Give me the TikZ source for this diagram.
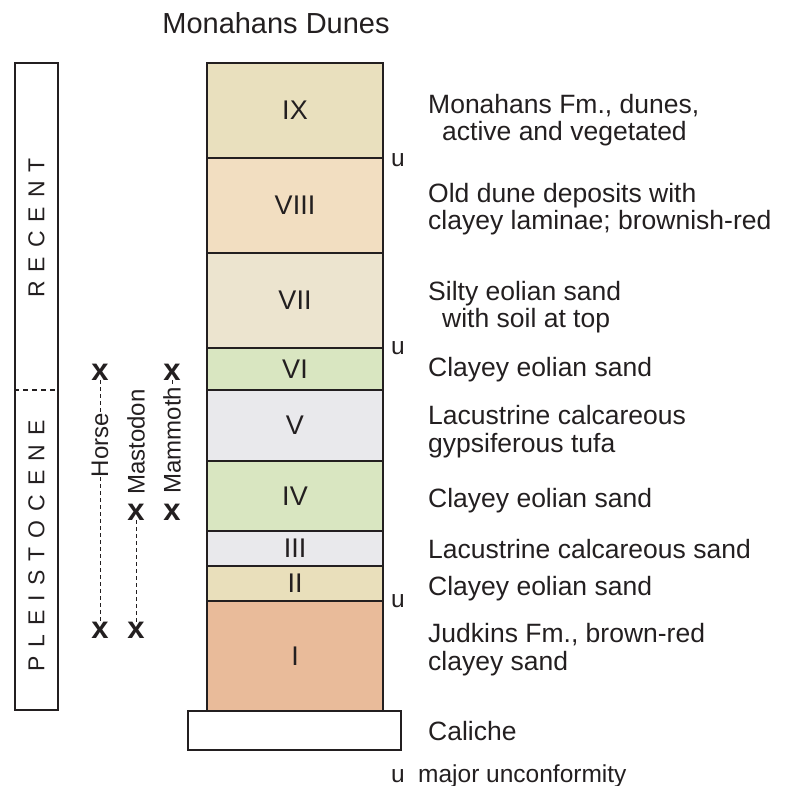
\documentclass[tikz,border=0pt]{standalone}
\usepackage{fontspec}
\setmainfont{Liberation Sans}
\usetikzlibrary{positioning,calc}
\definecolor{colline}{RGB}{35,31,32}
\definecolor{colix}{RGB}{233,224,190}
\definecolor{colviii}{RGB}{242,222,193}
\definecolor{colvii}{RGB}{236,228,207}
\definecolor{colgreen}{RGB}{217,230,193}
\definecolor{colgray}{RGB}{233,233,236}
\definecolor{colii}{RGB}{233,223,187}
\definecolor{coli}{RGB}{233,187,154}
\newcommand{\ls}{\hspace{9pt}}

\begin{document}
\begin{tikzpicture}[x=1pt,y=-1pt,
  every node/.style={inner sep=0pt,text=colline},
  layer/.style={draw=colline,line width=1.6pt,minimum width=176,font=\fontsize{27}{27}\selectfont},
  desc/.style={anchor=base west,align=left,font=\fontsize{26.5}{27.5}\selectfont},
  unc/.style={anchor=base west,font=\fontsize{24.5}{25}\selectfont},
  era/.style={rotate=90,font=\fontsize{23}{23}\selectfont},
  fossil/.style={rotate=90,font=\fontsize{24}{24}\selectfont},
  fosx/.style={font=\bfseries\fontsize{31}{31}\selectfont},
  fosline/.style={draw=colline,line width=0.7pt,dash pattern=on 4pt off 3pt}
]
\useasboundingbox (0,0) rectangle (790,786);
\node[font=\fontsize{29}{29}\selectfont,anchor=base] (title) at (276,34) {Monahans Dunes};
% ---------------- epoch bar (left) ----------------
\node[draw=colline,line width=1.6pt,minimum width=43,minimum height=647] (epoch) at (36.5,386.5) {};
\coordinate (div) at (36.5,390);
\draw[colline,line width=1.6pt,dash pattern=on 5pt off 4pt] (epoch.west |- div) -- (epoch.east |- div);
\node[era] (recent) at (36.5,228) {R\ls E\ls C\ls E\ls N\ls T};
\node[era] (pleist) at (36.5,546) {P\ls L\ls E\ls I\ls S\ls T\ls O\ls C\ls E\ls N\ls E};
% ---------------- fossil ranges ----------------
\node[fosx] (horse1) at (100,372) {x};
\node[fosx] (horse2) at (100,630) {x};
\node[fossil] (horse) at (100,445) {Horse};
\draw[fosline] (horse1) -- (horse.east);
\draw[fosline] (horse.west) -- (horse2);
\node[fosx] (masto1) at (136,512) {x};
\node[fosx] (masto2) at (136,630) {x};
\node[fossil] (masto) at (136,442) {Mastodon};
\draw[fosline] (masto1) -- (masto2);
\node[fosx] (mammo1) at (172,372) {x};
\node[fosx] (mammo2) at (172,512) {x};
\node[fossil] (mammo) at (172,440) {Mammoth};
\draw[fosline] (mammo1) -- (mammo.east);
% ---------------- column (middle) ----------------
\node[layer,fill=colix,minimum height=95] (l9) at (295,110.5) {IX};
\node[layer,fill=colviii,minimum height=95] (l8) at (295,205.5) {VIII};
\node[layer,fill=colvii,minimum height=95] (l7) at (295,300.5) {VII};
\node[layer,fill=colgreen,minimum height=42] (l6) at (295,369) {VI};
\node[layer,fill=colgray,minimum height=71] (l5) at (295,425.5) {V};
\node[layer,fill=colgreen,minimum height=70] (l4) at (295,496) {IV};
\node[layer,fill=colgray,minimum height=35] (l3) at (295,548.5) {III};
\node[layer,fill=colii,minimum height=35] (l2) at (295,583.5) {II};
\node[layer,fill=coli,minimum height=110] (l1) at (295,656) {I};
\node[layer,fill=white,minimum width=213,minimum height=39] (cal) at (294.5,730.5) {};
% ---------------- unconformities ----------------
\node[unc] (u98) at (391,167) {u};
\node[unc] (u76) at (391,355) {u};
\node[unc] (u21) at (391,607) {u};
% ---------------- descriptions (right) ----------------
\node[desc] (d9) at (428,141) {Monahans Fm., dunes,\\\hspace*{14pt}active and vegetated};
\node[desc] (d8) at (428,230) {Old dune deposits with\\clayey laminae; brownish-red};
\node[desc] (d7) at (428,328) {Silty eolian sand\\\hspace*{14pt}with soil at top};
\node[desc] (d6) at (428,377) {Clayey eolian sand};
\node[desc] (d5) at (428,452) {Lacustrine calcareous\\gypsiferous tufa};
\node[desc] (d4) at (428,507) {Clayey eolian sand};
\node[desc] (d3) at (428,558) {Lacustrine calcareous sand};
\node[desc] (d2) at (428,595) {Clayey eolian sand};
\node[desc] (d1) at (428,670) {Judkins Fm., brown-red\\clayey sand};
\node[desc] (dcal) at (428,740) {Caliche};
% ---------------- legend ----------------
\node[unc] (ukey) at (391,782) {u};
\node[unc] (ukeytxt) at (418,782) {major unconformity};
\end{tikzpicture}
\end{document}
